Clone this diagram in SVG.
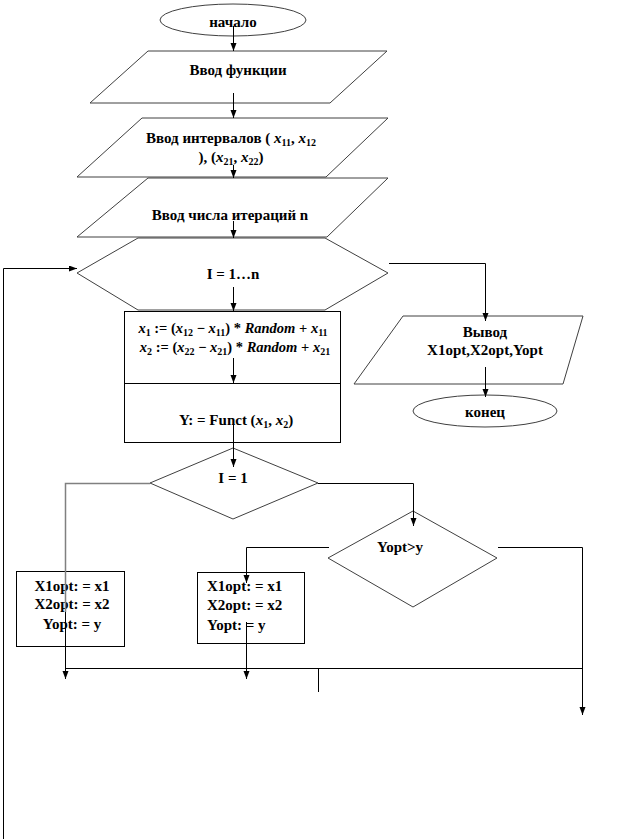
<svg xmlns="http://www.w3.org/2000/svg" width="621" height="839" viewBox="0 0 621 839">
<style>
.shape{fill:#fff;stroke:#404040;stroke-width:1}
.box{fill:#fff;stroke:#000;stroke-width:1}
.t{font-family:"Liberation Serif","Times New Roman",serif;font-size:15px;font-weight:bold;fill:#000;text-anchor:middle}
.ts{font-family:"Liberation Serif","Times New Roman",serif;font-size:15px;font-weight:bold;fill:#000;text-anchor:start}
.f{font-size:14.5px}
.i{font-style:italic}
.sub{font-size:10px}
.c{fill:none;stroke:#000;stroke-width:1}
</style>
<defs>
<marker id="ah" markerWidth="8" markerHeight="8" refX="8" refY="3" orient="auto" markerUnits="userSpaceOnUse">
<path d="M0,0 L8,3 L0,6 z" fill="#000"/>
</marker>
</defs>
<rect width="621" height="839" fill="#fff"/>
<g id="start">
<ellipse class="shape" cx="233" cy="20" rx="73" ry="16"/>
<text class="t" x="233" y="27">начало</text>
</g>
<g id="input-function">
<polygon class="shape" points="148,51 387,51 330,103 90,103"/>
<text class="t" x="238" y="75">Ввод функции</text>
</g>
<g id="input-intervals">
<polygon class="shape" points="142,118 388,118 326,177 77,177"/>
<text class="t" x="231" y="143">Ввод интервалов ( <tspan class="i">x</tspan><tspan class="sub" dy="3">11</tspan><tspan dy="-3">, </tspan><tspan class="i">x</tspan><tspan class="sub" dy="3">12</tspan></text>
<text class="t" x="231" y="162"><tspan dy="0">), (</tspan><tspan class="i">x</tspan><tspan class="sub" dy="3">21</tspan><tspan dy="-3">, </tspan><tspan class="i">x</tspan><tspan class="sub" dy="3">22</tspan><tspan dy="-3">)</tspan></text>
</g>
<g id="input-iterations">
<polygon class="shape" points="148,178 388,178 327,237 77,237"/>
<text class="t" x="230" y="220">Ввод числа итераций n</text>
</g>
<g id="loop">
<polygon class="shape" points="77,273 138,238 325,238 388,273 325,310 138,310"/>
<text class="t" x="233" y="279">I = 1…n</text>
</g>
<g id="compute">
<rect class="box" x="124.5" y="311.5" width="216" height="131"/>
<line class="box" x1="124.5" y1="383.5" x2="340.5" y2="383.5"/>
<text class="t f" x="233" y="333"><tspan class="i">x</tspan><tspan class="sub" dy="3">1</tspan><tspan dy="-3"> := (</tspan><tspan class="i">x</tspan><tspan class="sub" dy="3">12</tspan><tspan dy="-3"> − </tspan><tspan class="i">x</tspan><tspan class="sub" dy="3">11</tspan><tspan dy="-3">) * </tspan><tspan class="i">Random</tspan><tspan> + </tspan><tspan class="i">x</tspan><tspan class="sub" dy="3">11</tspan></text>
<text class="t f" x="235" y="352"><tspan class="i">x</tspan><tspan class="sub" dy="3">2</tspan><tspan dy="-3"> := (</tspan><tspan class="i">x</tspan><tspan class="sub" dy="3">22</tspan><tspan dy="-3"> − </tspan><tspan class="i">x</tspan><tspan class="sub" dy="3">21</tspan><tspan dy="-3">) * </tspan><tspan class="i">Random</tspan><tspan> + </tspan><tspan class="i">x</tspan><tspan class="sub" dy="3">21</tspan></text>
<text class="t" x="236" y="425">Y: = Funct  (<tspan class="i">x</tspan><tspan class="sub" dy="3">1</tspan><tspan dy="-3">, </tspan><tspan class="i">x</tspan><tspan class="sub" dy="3">2</tspan><tspan dy="-3">)</tspan></text>
</g>
<g id="check-first">
<polygon class="shape" points="233,448 318,483 233,519 150,483"/>
<text class="t" x="233" y="483">I = 1</text>
</g>
<g id="check-less">
<polygon class="shape" points="413,511 497,558 413,607 328,558"/>
<text class="t" x="400" y="552">Yopt&gt;y</text>
</g>
<g id="assign-first">
<rect class="box" x="16.5" y="571.5" width="108" height="75"/>
<text class="t" x="72" y="591">X1opt: = x1</text>
<text class="t" x="72" y="609">X2opt: = x2</text>
<text class="t" x="72" y="629">Yopt: = y</text>
</g>
<g id="assign-better">
<rect class="box" x="197.5" y="572.5" width="107" height="71"/>
<text class="ts" x="207" y="591">X1opt: = x1</text>
<text class="ts" x="207" y="610">X2opt: = x2</text>
<text class="ts" x="207" y="630">Yopt: = y</text>
</g>
<g id="output">
<polygon class="shape" points="403,316 583,316 563,384 354,384"/>
<text class="t" x="485" y="337">Вывод</text>
<text class="t" x="485" y="355">X1opt,X2opt,Yopt</text>
</g>
<g id="end">
<ellipse class="shape" cx="485" cy="411" rx="72" ry="16"/>
<text class="t" x="485" y="417">конец</text>
</g>
<g id="connectors">
<path class="c" d="M233.5 26 V51" marker-end="url(#ah)"/>
<path class="c" d="M233.5 93 V118" marker-end="url(#ah)"/>
<path class="c" d="M233.5 165 V178" marker-end="url(#ah)"/>
<path class="c" d="M233.5 221 V238" marker-end="url(#ah)"/>
<path class="c" d="M233.5 287 V311" marker-end="url(#ah)"/>
<path class="c" d="M233.5 358 V383" marker-end="url(#ah)"/>
<path class="c" d="M233.5 422 V467" marker-end="url(#ah)"/>
<path class="c" d="M389 263.5 H485.5 V321" marker-end="url(#ah)"/>
<path class="c" d="M485.5 367 V397" marker-end="url(#ah)"/>
<path class="c" d="M3.5 839 V268.5 H77" marker-end="url(#ah)"/>
<path d="M150 483.5 H65.5 V612" fill="none" stroke="#808080" stroke-width="1.5"/>
<path class="c" d="M65.5 612 V679" marker-end="url(#ah)"/>
<path class="c" d="M318 483.5 H413.5 V526" marker-end="url(#ah)"/>
<path class="c" d="M329 547.5 H246.5 V583" marker-end="url(#ah)"/>
<path class="c" d="M246.5 622 V679" marker-end="url(#ah)"/>
<path class="c" d="M498 547.5 H582.5 V715" marker-end="url(#ah)"/>
<path class="c" d="M65.5 668.5 H582.5"/>
<path class="c" d="M318.5 668.5 V692"/>
</g>
</svg>
